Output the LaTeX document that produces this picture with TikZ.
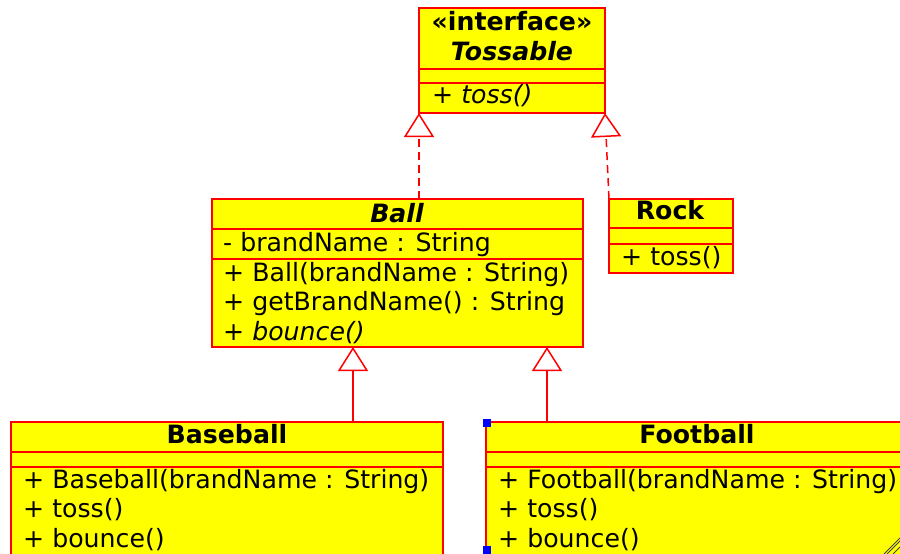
\documentclass[tikz,border=0pt]{standalone}
\usepackage{fontspec}
\setmainfont{DejaVu Sans}
\usetikzlibrary{arrows.meta}
\definecolor{umlyellow}{RGB}{255,255,0}
\definecolor{umlred}{RGB}{255,0,0}
\begin{document}
\begin{tikzpicture}[x=1pt,y=-1pt,
  umlbox/.style={draw=umlred, fill=umlyellow, line width=1.5pt, anchor=north west, inner sep=0pt, outer sep=0pt},
  sep/.style={draw=umlred, line width=1.5pt},
  mem/.style={anchor=base west, inner sep=0pt, font=\fontsize{25.2}{29}\selectfont},
  hdr/.style={anchor=base, inner sep=0pt, font=\fontsize{25.2}{29}\selectfont\bfseries},
  gen/.style={draw=umlred, line width=1.5pt, -{Triangle[open, length=24pt, width=30pt]}},
  real/.style={gen, dash pattern=on 8pt off 5pt},
]
\useasboundingbox (0,0) rectangle (900,554);
\clip (0,0) rectangle (900,554);

% Tossable
\node[umlbox, minimum width=186pt, minimum height=105pt] (toss) at (419,8) {};
\draw[sep] (toss.west |- 0,69) -- (toss.east |- 0,69);
\draw[sep] (toss.west |- 0,83) -- (toss.east |- 0,83);
\node[hdr] (tossA) at (512,30) {«interface»};
\node[hdr, font=\fontsize{25.2}{29}\selectfont\bfseries\itshape] (tossB) at (512,60) {Tossable};
\node[mem, font=\fontsize{25.2}{29}\selectfont\itshape] (tossC) at (432,103) {+ toss()};

% Ball
\node[umlbox, minimum width=371pt, minimum height=148pt] (ball) at (212,199) {};
\draw[sep] (ball.west |- 0,229) -- (ball.east |- 0,229);
\draw[sep] (ball.west |- 0,259) -- (ball.east |- 0,259);
\node[hdr, font=\fontsize{25.2}{29}\selectfont\bfseries\itshape] (ballA) at (397,222) {Ball};
\node[mem] (ballB) at (223,251) {- brandName : String};
\node[mem] (ballC) at (223,281) {+ Ball(brandName : String)};
\node[mem] (ballD) at (223,310.5) {+ getBrandName() : String};
\node[mem, font=\fontsize{25.2}{29}\selectfont\itshape] (ballE) at (223,340) {+ bounce()};

% Rock
\node[umlbox, minimum width=124pt, minimum height=74pt] (rock) at (609,199) {};
\draw[sep] (rock.west |- 0,228) -- (rock.east |- 0,228);
\draw[sep] (rock.west |- 0,244) -- (rock.east |- 0,244);
\node[hdr] (rockA) at (670,219) {Rock};
\node[mem] (rockB) at (621,265) {+ toss()};

% Baseball
\node[umlbox, minimum width=432pt, minimum height=150pt] (base) at (11,422) {};
\draw[sep] (base.west |- 0,452) -- (base.east |- 0,452);
\draw[sep] (base.west |- 0,467) -- (base.east |- 0,467);
\node[hdr] (baseA) at (227,443) {Baseball};
\node[mem] (baseB) at (23,488) {+ Baseball(brandName : String)};
\node[mem] (baseC) at (23,517.5) {+ toss()};
\node[mem] (baseD) at (23,547) {+ bounce()};

% Football
\node[umlbox, minimum width=422pt, minimum height=150pt] (foot) at (486,422) {};
\draw[sep] (foot.west |- 0,452) -- (foot.east |- 0,452);
\draw[sep] (foot.west |- 0,467) -- (foot.east |- 0,467);
\node[hdr] (footA) at (697,443) {Football};
\node[mem] (footB) at (498,488) {+ Football(brandName : String)};
\node[mem] (footC) at (498,517.5) {+ toss()};
\node[mem] (footD) at (498,547) {+ bounce()};

% selection handles and grip
\fill[blue] (482.5,419) rectangle (490.5,427);
\fill[blue] (482.5,546) rectangle (490.5,554);
\draw[black!75, line width=0.8pt] (884,554) -- (900,538);
\draw[black!75, line width=0.8pt] (887,554) -- (900,541);
\draw[black!75, line width=0.8pt] (893,554) -- (900,547);

% connectors
\draw[real] (toss.south west |- ball.north) -- (toss.south west);
\draw[real] (rock.north west) -- (toss.south east);
\draw[gen] ([xshift=141pt]ball.south west |- base.north) -- ([xshift=141pt]ball.south west);
\draw[gen] ([xshift=335pt]ball.south west |- foot.north) -- ([xshift=335pt]ball.south west);
\end{tikzpicture}
\end{document}
